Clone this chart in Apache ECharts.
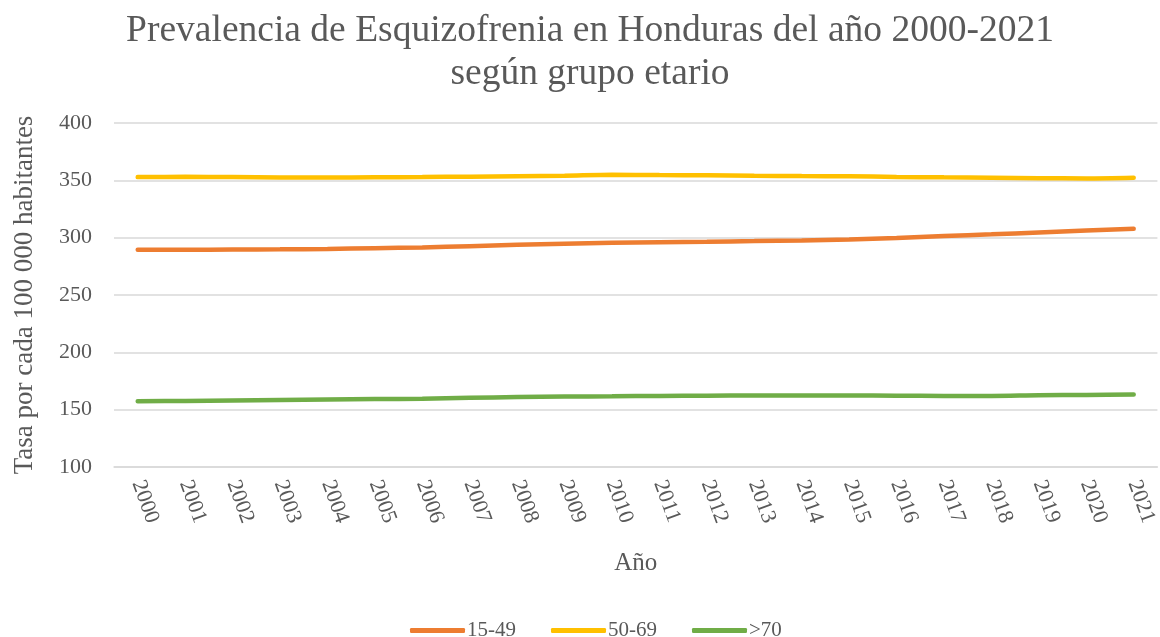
<!DOCTYPE html>
<html>
<head>
<meta charset="utf-8">
<script src="https://cdn.jsdelivr.net/npm/echarts@6/dist/echarts.min.js"></script>
<style>
  html, body { margin: 0; padding: 0; background: #fff; }
  #chart { width: 1160px; height: 637px; }
</style>
</head>
<body>
<div id="chart"></div>
<script>
// años
const years = ['2000', '2001', '2002', '2003', '2004', '2005', '2006', '2007', '2008', '2009', '2010',
  '2011', '2012', '2013', '2014', '2015', '2016', '2017', '2018', '2019', '2020', '2021'];

// tasas
const grupo1549 = [289.5, 289.5, 289.6, 289.8, 290.2, 290.8, 291.5, 292.6, 293.8, 294.8, 295.6,
  296.1, 296.5, 297.0, 297.6, 298.4, 299.8, 301.4, 302.9, 304.6, 306.3, 307.8];
const grupo5069 = [352.8, 353.1, 352.8, 352.5, 352.5, 352.7, 352.9, 353.2, 353.6, 354.0, 354.8,
  354.6, 354.4, 354.0, 353.7, 353.5, 353.0, 352.6, 352.3, 351.9, 351.6, 352.2];
const grupo70 = [157.3, 157.6, 158.0, 158.4, 158.8, 159.2, 159.6, 160.3, 161.0, 161.4, 161.7,
  162.0, 162.2, 162.3, 162.3, 162.3, 162.2, 162.0, 162.0, 162.6, 162.8, 163.2];

const seriesNames = ['15-49', '50-69', '>70'];
const colors = ['#ED7D31', '#FFC000', '#70AD47'];

const serif = '"Liberation Serif", "DejaVu Serif", serif';
const textColor = '#595959';

const chart = echarts.init(document.getElementById('chart'));

const makeLine = (name, data, color) => ({
  name,
  type: 'line',
  smooth: 0.3,
  symbol: 'none',
  data,
  lineStyle: { width: 4.5, color, cap: 'round' },
  itemStyle: { color }
});

chart.setOption({
  backgroundColor: '#fff',
  animation: false,
  color: colors,
  title: {
    text: 'Prevalencia de Esquizofrenia en Honduras del año 2000-2021\nsegún grupo etario',
    left: 585,
    textAlign: 'center',
    top: 5,
    textStyle: {
      fontFamily: serif,
      fontSize: 37.5,
      fontWeight: 'normal',
      color: textColor,
      lineHeight: 43
    }
  },
  legend: {
    bottom: -9,
    left: 405,
    icon: 'roundRect',
    itemWidth: 55,
    itemHeight: 5,
    itemGap: 35,
    textStyle: { fontFamily: serif, fontSize: 21, color: textColor, padding: [0, 0, 0, -3] },
    data: seriesNames
  },
  grid: {
    left: 114,
    right: -2,
    top: 123,
    bottom: 170
  },
  xAxis: {
    type: 'category',
    data: years,
    boundaryGap: true,
    name: 'Año',
    nameLocation: 'middle',
    nameGap: 84,
    nameTextStyle: { fontFamily: serif, fontSize: 25, color: textColor },
    axisLine: { show: true, lineStyle: { color: '#D9D9D9', width: 1.5 } },
    axisTick: { show: false },
    axisLabel: {
      interval: 0,
      rotate: -70,
      margin: 14,
      fontFamily: serif,
      fontSize: 22,
      color: textColor
    }
  },
  yAxis: {
    type: 'value',
    min: 100,
    max: 400,
    interval: 50,
    name: 'Tasa por cada 100 000 habitantes',
    nameLocation: 'middle',
    nameGap: 76,
    nameTextStyle: { fontFamily: serif, fontSize: 27, color: textColor },
    axisLine: { show: false },
    axisTick: { show: false },
    axisLabel: { fontFamily: serif, fontSize: 22, color: textColor, margin: 22 },
    splitLine: { lineStyle: { color: '#D9D9D9', width: 1.5 } }
  },
  series: [
    makeLine(seriesNames[0], grupo1549, colors[0]),
    makeLine(seriesNames[1], grupo5069, colors[1]),
    makeLine(seriesNames[2], grupo70, colors[2])
  ]
});
</script>
</body>
</html>
